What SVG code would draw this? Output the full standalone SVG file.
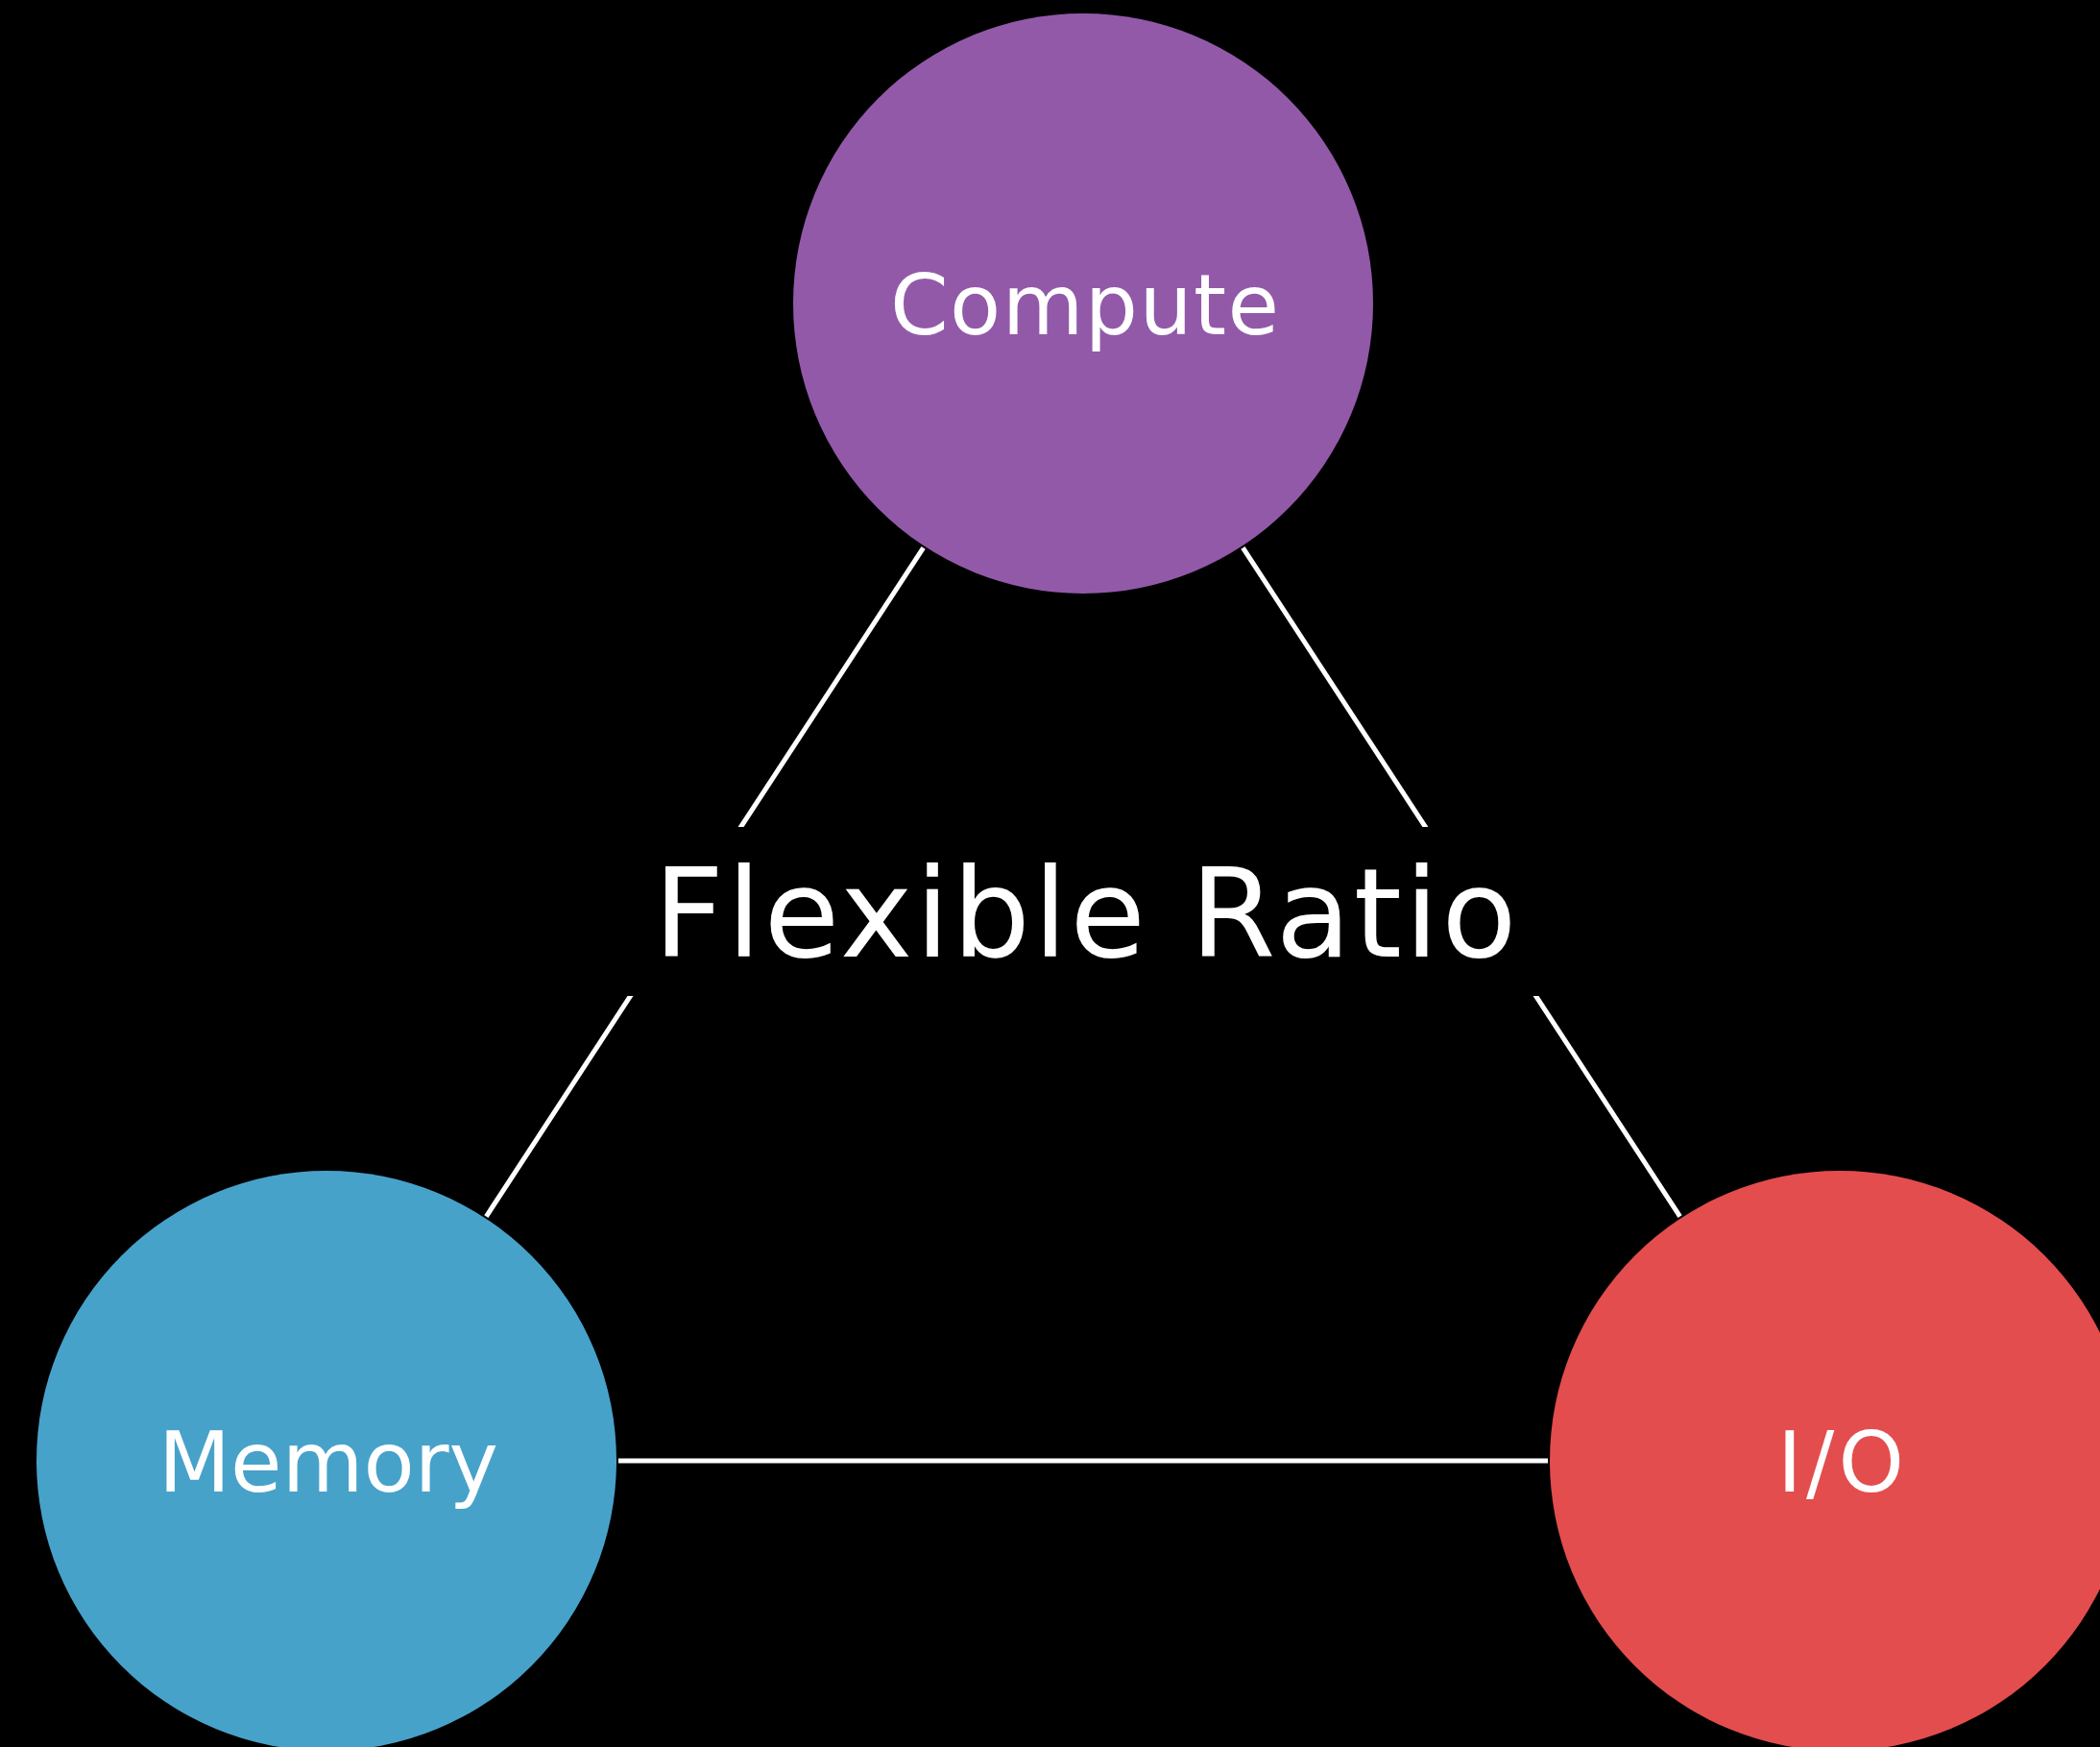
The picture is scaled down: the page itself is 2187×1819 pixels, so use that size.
<svg xmlns="http://www.w3.org/2000/svg" width="2187" height="1819" viewBox="0 0 2187 1819">
  <style>
    .bg { fill: #000000; }
    .link { stroke: #ffffff; stroke-width: 5; stroke-linecap: butt; fill: none; }
    .node-label { fill: #ffffff; font-family: "DejaVu Sans", "Liberation Sans", sans-serif; font-size: 87px; text-anchor: middle; }
    .title { fill: #ffffff; font-family: "DejaVu Sans", "Liberation Sans", sans-serif; font-size: 128px; text-anchor: middle; }
  </style>

  <rect class="bg" x="0" y="0" width="2187" height="1819"/>

  <!-- edges of the triangle, each running between circle rims -->
  <g id="connectors">
    <line id="compute-memory" class="link" x1="961.6" y1="570.4" x2="506.4" y2="1266.6"/>
    <line id="compute-io" class="link" x1="1294.4" y1="570.4" x2="1749.6" y2="1266.6"/>
    <line id="memory-io" class="link" x1="644" y1="1521" x2="1612" y2="1521"/>
  </g>

  <!-- central caption; its black band interrupts the two slanted edges -->
  <g id="label-flexible-ratio">
    <rect class="bg" x="600" y="861" width="1060" height="176"/>
    <text class="title" x="1130" y="996" textLength="899" lengthAdjust="spacing">Flexible Ratio</text>
  </g>

  <g id="node-compute">
    <circle cx="1128" cy="316" r="302" fill="#9259a9"/>
    <text class="node-label" x="1129.5" y="348" textLength="405" lengthAdjust="spacing">Compute</text>
  </g>

  <g id="node-memory">
    <circle cx="340" cy="1521" r="302" fill="#47a2ca"/>
    <text class="node-label" x="342" y="1553" textLength="354" lengthAdjust="spacing">Memory</text>
  </g>

  <g id="node-io">
    <circle cx="1916" cy="1521" r="302" fill="#e34d4e"/>
    <text class="node-label" x="1917" y="1553" textLength="132" lengthAdjust="spacing">I/O</text>
  </g>
</svg>
